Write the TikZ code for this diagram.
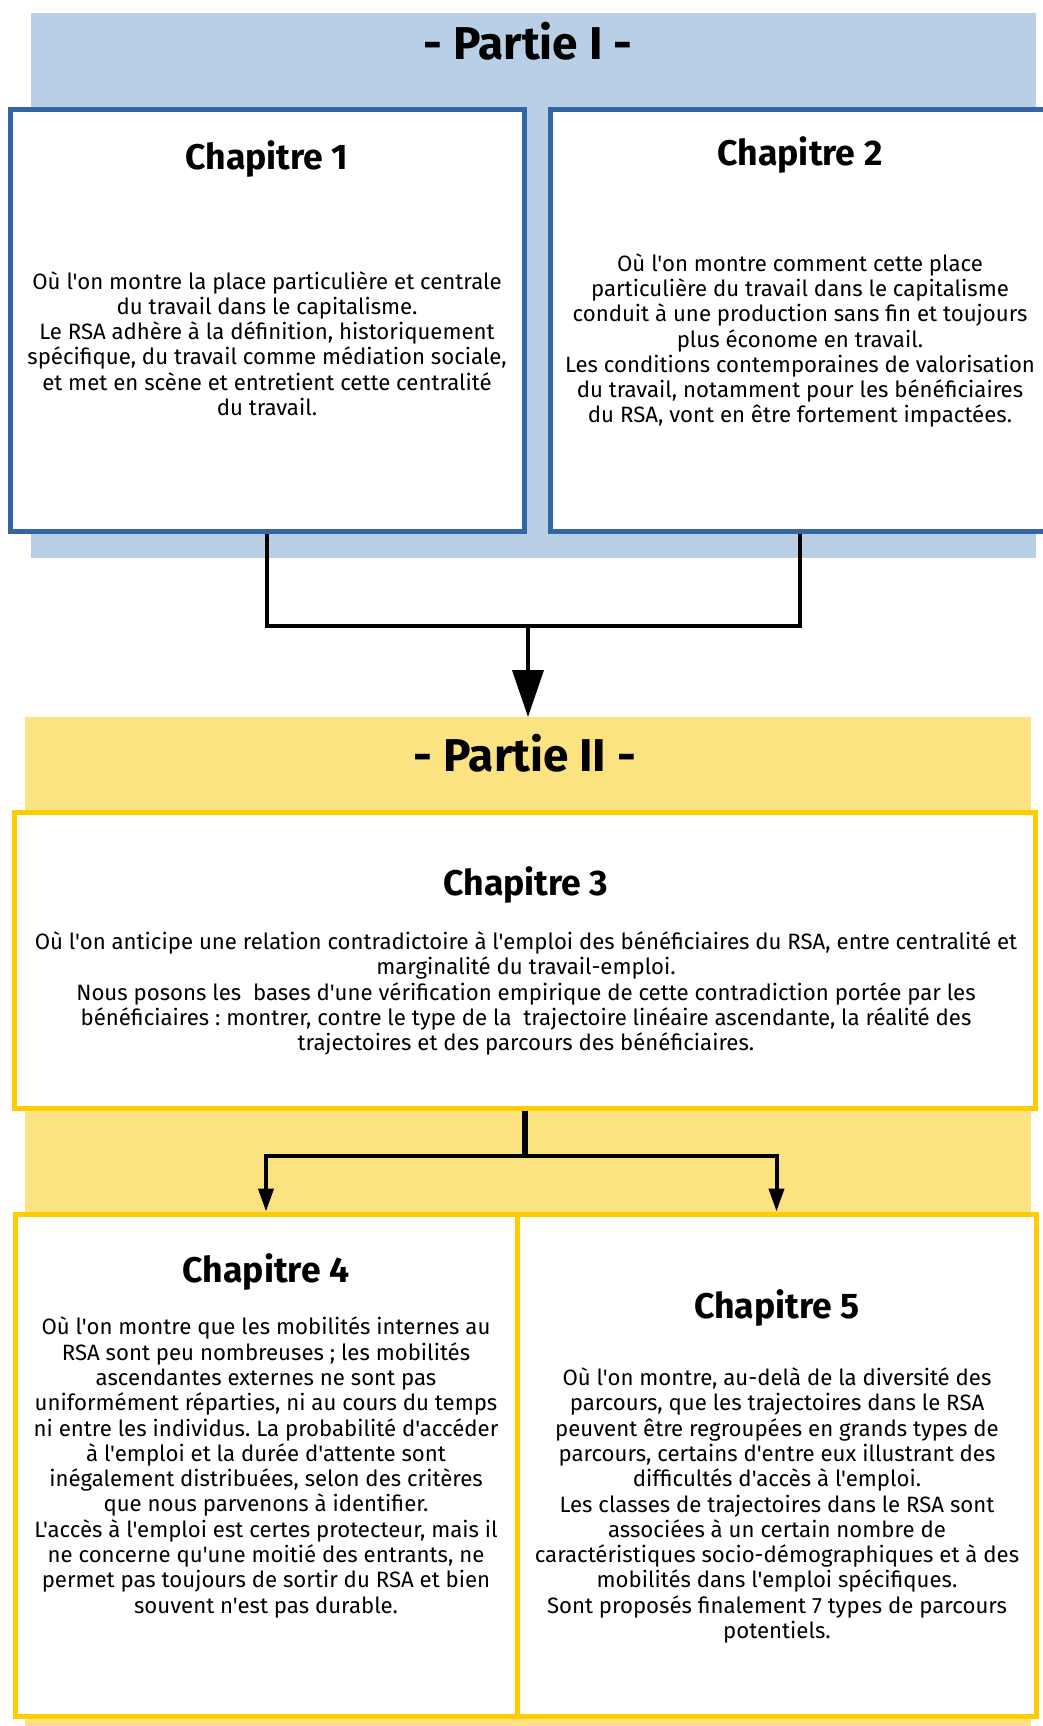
\documentclass[tikz,border=0pt]{standalone}
\usepackage{fontspec}
\setmainfont{Fira Sans}[Ligatures=TeXOff]
\usetikzlibrary{arrows.meta, fit}
\frenchspacing

\definecolor{partIfill}{HTML}{B8CFE6}
\definecolor{partIline}{HTML}{3465A4}
\definecolor{partIIfill}{HTML}{FCE382}
\definecolor{partIIline}{HTML}{FFCC00}

\begin{document}
\begin{tikzpicture}[x=0.5pt, y=-0.5pt,
	bg/.style={inner sep=0pt, outer sep=0pt},
	chapbox/.style={draw, fill=white, line width=2.5pt, inner sep=0pt},
	parttitle/.style={font=\bfseries\fontsize{23}{27}\selectfont},
	chaptitle/.style={font=\bfseries\fontsize{17.8}{21}\selectfont},
	chaptext/.style={align=center, font=\fontsize{11.1}{12.65}\selectfont},
	link/.style={line width=2pt},
	bigtip/.style={-{Triangle[length=23.5pt, width=15.5pt]}},
	smalltip/.style={-{Triangle[length=11.5pt, width=7.5pt]}}]

\useasboundingbox (0,0) rectangle (1043,1726);

%Backgrounds
\node[bg, fill=partIfill, fit={(31,13) (1036,558)}] (partI) {};
\node[bg, fill=partIIfill, fit={(25,717) (1031,1740)}] (partII) {};

% Part titles
\node[parttitle] (titleI) at (528,41) {- Partie I -};
\node[parttitle] (titleII) at (525,753) {- Partie II -};

%Boxes
\node[chapbox, draw=partIline, fit={(10,109) (524,531)}] (ch1) {};
\node[chapbox, draw=partIline, fit={(550,109) (1050,531)}] (ch2) {};

\node[chapbox, draw=partIIline, fit={(14,812) (1035,1108)}] (ch3) {};
\node[chapbox, draw=partIIline, fit={(15,1214) (517,1716)}] (ch4) {};
\node[chapbox, draw=partIIline, fit={(517,1214) (1036,1716)}] (ch5) {};

% Chapitre 1
\node[chaptitle] (ch1title) at (267,159) {Chapitre 1};
\node[chaptext] (ch1text) at (267,343.5) {Où l'on montre la place particulière et centrale\\
du travail dans le capitalisme.\\
Le RSA adhère à la définition, historiquement\\
spécifique, du travail comme médiation sociale,\\
et met en scène et entretient cette centralité\\
du travail.};

% Chapitre 2
\node[chaptitle] (ch2title) at (800,155) {Chapitre 2};
\node[chaptext] (ch2text) at (800,340.5) {Où l'on montre comment cette place\\
particulière du travail dans le capitalisme\\
conduit à une production sans fin et toujours\\
plus économe en travail.\\
Les conditions contemporaines de valorisation\\
du travail, notamment pour les bénéficiaires\\
du RSA, vont en être fortement impactées.};

% Chapitre 3
\node[chaptitle] (ch3title) at (526,885) {Chapitre 3};
\node[chaptext] (ch3text) at (526,993.5) {Où l'on anticipe une relation contradictoire à l'emploi des bénéficiaires du RSA, entre centralité et\\
marginalité du travail-emploi.\\
Nous posons les\ \ bases d'une vérification empirique de cette contradiction portée par les\\
bénéficiaires : montrer, contre le type de la\ \ trajectoire linéaire ascendante, la réalité des\\
trajectoires et des parcours des bénéficiaires.};

% Chapitre 4
\node[chaptitle] (ch4title) at (266,1272) {Chapitre 4};
\node[chaptext] (ch4text) at (266,1467.5) {Où l'on montre que les mobilités internes au\\
RSA sont peu nombreuses ; les mobilités\\
ascendantes externes ne sont pas\\
uniformément réparties, ni au cours du temps\\
ni entre les individus. La probabilité d'accéder\\
à l'emploi et la durée d'attente sont\\
inégalement distribuées, selon des critères\\
que nous parvenons à identifier.\\
L'accès à l'emploi est certes protecteur, mais il\\
ne concerne qu'une moitié des entrants, ne\\
permet pas toujours de sortir du RSA et bien\\
souvent n'est pas durable.};

% Chapitre 5
\node[chaptitle] (ch5title) at (777,1308) {Chapitre 5};
\node[chaptext] (ch5text) at (777,1505.5) {Où l'on montre, au-delà de la diversité des\\
parcours, que les trajectoires dans le RSA\\
peuvent être regroupées en grands types de\\
parcours, certains d'entre eux illustrant des\\
difficultés d'accès à l'emploi.\\
Les classes de trajectoires dans le RSA sont\\
associées à un certain nombre de\\
caractéristiques socio-démographiques et à des\\
mobilités dans l'emploi spécifiques.\\
Sont proposés finalement 7 types de parcours\\
potentiels.};

%%%%%%%%%%%%
% Links

\coordinate (joinI) at (528,626);
\draw[link] (ch1.south) |- (joinI) -| (ch2.south);
\draw[link, bigtip] (joinI) -- (partII.north);

\coordinate (joinII) at (ch3.south |- 0,1156);
\draw[line width=3pt] (ch3.south) -- (joinII);
\draw[link, smalltip] (joinII) -| (ch4.north);
\draw[link, smalltip] (joinII) -| (ch5.north);

\end{tikzpicture}
\end{document}
